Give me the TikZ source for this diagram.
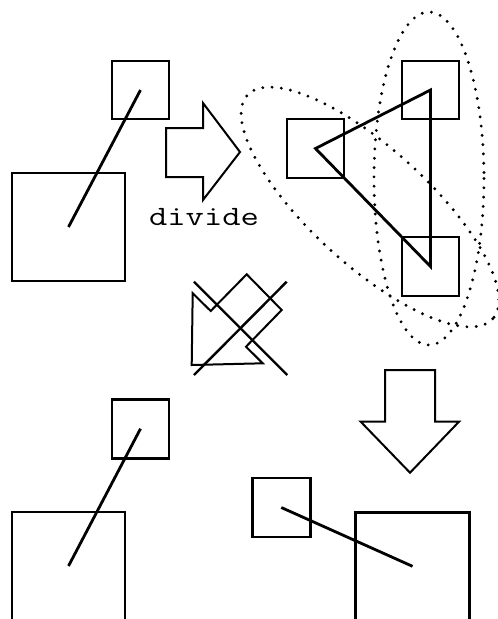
\documentclass[tikz,border=0pt]{standalone}
\usepackage{fontspec}
\begin{document}
\begin{tikzpicture}[x=1pt,y=-1pt,
  box/.style={draw,line width=2.8pt,inner sep=0pt,outer sep=0pt,rectangle},
  smallbox/.style={box,minimum width=57pt,minimum height=58pt},
  bigbox/.style={box,minimum width=113pt,minimum height=108pt},
  link/.style={line width=2.8pt},
  blockarrow/.style={line width=2pt,line join=miter},
  strike/.style={line width=2.4pt},
  halo/.style={line width=3.2pt,dash pattern=on 0pt off 9.3pt,line cap=round}]
\useasboundingbox (0,0) rectangle (498,619);
\clip (0,0) rectangle (498,619);

% pair before splitting
\node[smallbox] (tlS) at (140.5,90) {};
\node[bigbox]   (tlL) at (68.5,227) {};
\draw[link] (tlS.center) -- (tlL.center);

% split arrow and its label
\draw[blockarrow] (166,128) -- (203,128) -- (203,103) -- (240,152)
  -- (203,200) -- (203,177) -- (166,177) -- cycle;
\node[font=\ttfamily\fontsize{28}{28}\selectfont,anchor=base,inner sep=0pt]
  (divlabel) at (204,225.5) {\scalebox{1.27}[1]{divide}};

% three parts after splitting
\node[smallbox,minimum height=59pt] (rA) at (315.5,148.5) {};
\node[smallbox] (rB) at (430.5,90) {};
\node[smallbox,minimum height=59pt] (rC) at (430.5,266.5) {};
\draw[link,line join=miter] (rA.center) -- (rB.center) -- (rC.center) -- cycle;

% groupings
\draw[halo] (429,178.5) ellipse [x radius=55, y radius=166.5];
\draw[halo,shift={(370,207)},rotate=-42.35] (0,0) ellipse [x radius=166, y radius=58.4];

% crossed-out merge arrow
\draw[blockarrow] (192.7,293.3) -- (210.7,311) -- (246.7,274.3) -- (281.7,310)
  -- (246,346.7) -- (262.7,363.3) -- (191.7,365) -- cycle;
\draw[strike] (194,281.7) -- (287.3,375);
\draw[strike] (286.7,281.7) -- (194,375);

% lower left pair
\node[smallbox,minimum height=59pt] (blS) at (140.5,428.7) {};
\node[bigbox] (blL) at (68.5,566) {};
\draw[link] (blS.center) -- (blL.center);

% down arrow
\draw[blockarrow] (385,370) -- (435,370) -- (435,421.7) -- (459,421.7)
  -- (410,472.7) -- (360.7,421.7) -- (385,421.7) -- cycle;

% lower right pair
\node[smallbox,minimum width=58pt,minimum height=59pt] (brS) at (281.3,507.5) {};
\node[bigbox,minimum width=113.6pt] (brL) at (412.5,566.3) {};
\draw[link] (brS.center) -- (brL.center);
\end{tikzpicture}
\end{document}
